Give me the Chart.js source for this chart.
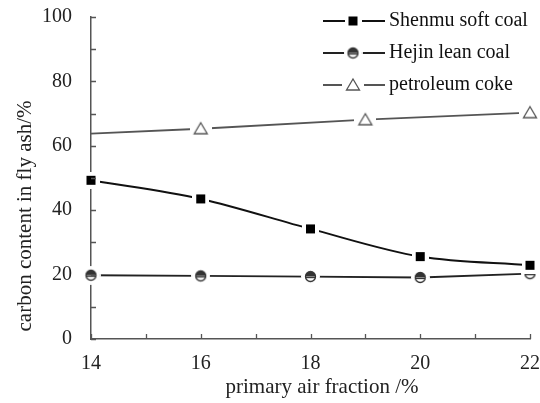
<!DOCTYPE html>
<html>
<head>
<meta charset="utf-8">
<script src="https://cdn.jsdelivr.net/npm/chart.js@4.4.0/dist/chart.umd.min.js"></script>
<style>
  html, body { margin: 0; padding: 0; background: #fff; }
  #wrap { width: 540px; height: 403px; }
</style>
</head>
<body>
<div id="wrap"><canvas id="ashChart" width="540" height="403"></canvas></div>
<script>
// primary air fraction (%) and carbon content in fly ash (%)
const airShenmu = [14, 16, 18, 20, 22];
const carbonShenmu = [49.3, 43.5, 34.2, 25.6, 22.9];
const airHejin = [14, 16, 18, 20, 22];
const carbonHejin = [19.8, 19.6, 19.4, 19.1, 20.3];
const airCoke = [14, 16, 19, 22];
const carbonCoke = [63.8, 65.3, 68.1, 70.3];

const xTickLabels = [14, 16, 18, 20, 22];
const yTickLabels = [0, 20, 40, 60, 80, 100];
const seriesNames = ['Shenmu soft coal', 'Hejin lean coal', 'petroleum coke'];

const serif = '"Liberation Serif", "DejaVu Serif", serif';

function pts(xs, ys) {
    return xs.map((x, i) => ({ x: x, y: ys[i] }));
}

// markers carry a white halo so the line stops short of them
function squareMarker() {
    const c = document.createElement('canvas');
    c.width = 17; c.height = 17;
    const g = c.getContext('2d');
    g.fillStyle = '#fff';
    g.fillRect(0, 0, 17, 17);
    g.fillStyle = '#000';
    g.fillRect(4, 4, 9, 9);
    return c;
}

function halfCircleMarker() {
    const c = document.createElement('canvas');
    c.width = 19; c.height = 19;
    const g = c.getContext('2d');
    g.fillStyle = '#fff';
    g.beginPath(); g.arc(9.5, 9.5, 9.5, 0, Math.PI * 2); g.fill();
    g.fillStyle = '#333';
    g.beginPath(); g.arc(9.5, 9.5, 5, Math.PI, Math.PI * 2); g.fill();
    g.strokeStyle = '#333';
    g.lineWidth = 1.3;
    g.beginPath(); g.arc(9.5, 9.5, 5, 0, Math.PI * 2); g.stroke();
    g.beginPath(); g.moveTo(4.5, 10.5); g.lineTo(14.5, 10.5); g.stroke();
    return c;
}

function triangleMarker() {
    const c = document.createElement('canvas');
    c.width = 22; c.height = 20;
    const g = c.getContext('2d');
    g.fillStyle = '#fff';
    g.fillRect(0, 0, 22, 20);
    g.strokeStyle = '#555';
    g.lineWidth = 1.3;
    g.beginPath();
    g.moveTo(11, 4); g.lineTo(17.5, 15); g.lineTo(4.5, 15); g.closePath();
    g.stroke();
    return c;
}

const markers = [squareMarker(), halfCircleMarker(), triangleMarker()];
const lineColors = ['#111', '#222', '#555'];

// inward tick marks, axis titles and the dash-marker-dash legend
const decorPlugin = {
    id: 'decor',
    afterDraw(chart) {
        const ctx = chart.ctx;
        const xs = chart.scales.x, ys = chart.scales.y;
        const area = chart.chartArea;
        ctx.save();
        ctx.strokeStyle = '#555';
        ctx.lineWidth = 1.3;
        ctx.beginPath();
        for (let v = xs.min; v <= xs.max; v += 1) {
            const px = Math.round(xs.getPixelForValue(v)) + 0.5;
            ctx.moveTo(px, area.bottom);
            ctx.lineTo(px, area.bottom - 5);
        }
        for (let v = ys.min; v <= ys.max; v += 10) {
            const py = Math.round(ys.getPixelForValue(v)) + 0.5;
            ctx.moveTo(area.left, py);
            ctx.lineTo(area.left + 5, py);
        }
        ctx.stroke();

        ctx.fillStyle = '#222';
        ctx.font = '21px ' + serif;
        ctx.textAlign = 'center';
        ctx.textBaseline = 'middle';
        ctx.fillText('primary air fraction /%', 322, 387);
        ctx.save();
        ctx.translate(25, 216);
        ctx.rotate(-Math.PI / 2);
        ctx.fillText('carbon content in fly ash/%', 0, 0);
        ctx.restore();

        ctx.font = '20px ' + serif;
        ctx.textAlign = 'left';
        seriesNames.forEach((name, i) => {
            const y = 21 + i * 32;
            ctx.strokeStyle = lineColors[i];
            ctx.lineWidth = 1.8;
            ctx.beginPath();
            ctx.moveTo(323, y); ctx.lineTo(385, y);
            ctx.stroke();
            const m = markers[i];
            ctx.drawImage(m, 353 - m.width / 2, y - m.height / 2);
            ctx.fillStyle = '#111';
            ctx.fillText(name, 389, y);
        });
        ctx.restore();
    }
};

new Chart(document.getElementById('ashChart'), {
    type: 'line',
    data: {
        datasets: [{
            label: seriesNames[0],
            data: pts(airShenmu, carbonShenmu),
            borderColor: lineColors[0],
            borderWidth: 2,
            cubicInterpolationMode: 'monotone',
            pointStyle: markers[0]
        }, {
            label: seriesNames[1],
            data: pts(airHejin, carbonHejin),
            borderColor: lineColors[1],
            borderWidth: 1.8,
            tension: 0,
            pointStyle: markers[1]
        }, {
            label: seriesNames[2],
            data: pts(airCoke, carbonCoke),
            borderColor: lineColors[2],
            borderWidth: 1.8,
            tension: 0,
            pointStyle: [null, markers[2], markers[2], markers[2]],
            pointRadius: [0, 3, 3, 3]
        }]
    },
    options: {
        responsive: false,
        animation: false,
        clip: false,
        layout: { padding: { top: 17, right: 10, left: 0, bottom: 0 } },
        plugins: {
            legend: { display: false },
            tooltip: { enabled: false }
        },
        scales: {
            x: {
                type: 'linear',
                min: 14,
                max: 22,
                afterBuildTicks: s => { s.ticks = xTickLabels.map(v => ({ value: v })); },
                afterFit: s => { s.height = 64; s.paddingLeft = 0; s.paddingRight = 0; },
                border: { color: '#555', width: 1.5 },
                grid: { display: false },
                ticks: {
                    color: '#222',
                    padding: 5,
                    font: { family: serif, size: 20 }
                }
            },
            y: {
                min: 0,
                max: 100,
                afterBuildTicks: s => { s.ticks = yTickLabels.map(v => ({ value: v })); },
                afterFit: s => { s.width = 91; s.paddingTop = 0; s.paddingBottom = 0; },
                border: { color: '#555', width: 1.5 },
                grid: { display: false },
                ticks: {
                    color: '#222',
                    padding: 11,
                    font: { family: serif, size: 20 }
                }
            }
        }
    },
    plugins: [decorPlugin]
});
</script>
</body>
</html>
